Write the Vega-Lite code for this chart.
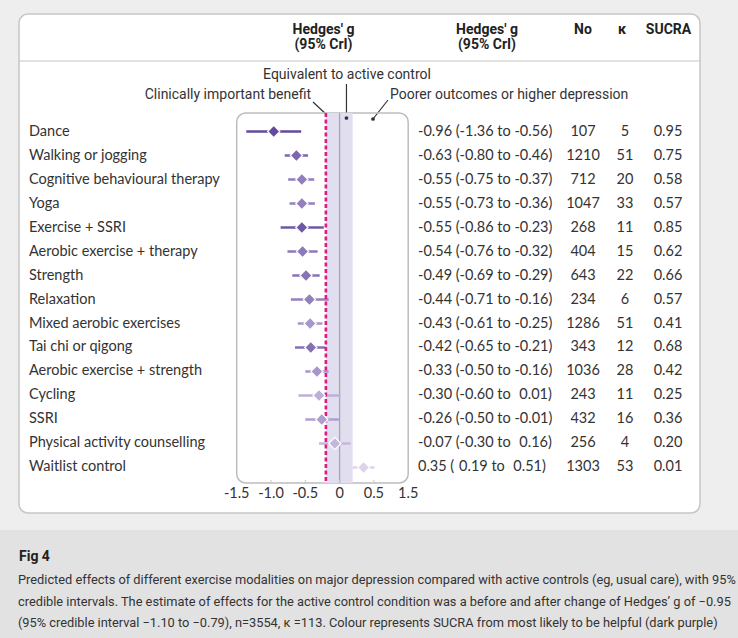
{
  "$schema": "https://vega.github.io/schema/vega-lite/v6.json",
  "width": 738,
  "height": 638,
  "autosize": "none",
  "padding": 0,
  "background": "#eeeeee",
  "config": {"view": {"stroke": null}, "axis": {"grid": false}},
  "datasets": {
    "ticks": [
      {"tick": -1.5, "label": "-1.5"},
      {"tick": -1.0, "label": "-1.0"},
      {"tick": -0.5, "label": "-0.5"},
      {"tick": 0, "label": "0"},
      {"tick": 0.5, "label": "0.5"},
      {"tick": 1.0, "label": "1.5"}
    ]
  },
  "data": {
    "values": [
      {"order": 1, "label": "Dance", "g": -0.96, "lo": -1.36, "hi": -0.56, "est": "-0.96 (-1.36 to -0.56)", "n": 107, "k": 5, "sucra": 0.95},
      {"order": 2, "label": "Walking or jogging", "g": -0.63, "lo": -0.80, "hi": -0.46, "est": "-0.63 (-0.80 to -0.46)", "n": 1210, "k": 51, "sucra": 0.75},
      {"order": 3, "label": "Cognitive behavioural therapy", "g": -0.55, "lo": -0.75, "hi": -0.37, "est": "-0.55 (-0.75 to -0.37)", "n": 712, "k": 20, "sucra": 0.58},
      {"order": 4, "label": "Yoga", "g": -0.55, "lo": -0.73, "hi": -0.36, "est": "-0.55 (-0.73 to -0.36)", "n": 1047, "k": 33, "sucra": 0.57},
      {"order": 5, "label": "Exercise + SSRI", "g": -0.55, "lo": -0.86, "hi": -0.23, "est": "-0.55 (-0.86 to -0.23)", "n": 268, "k": 11, "sucra": 0.85},
      {"order": 6, "label": "Aerobic exercise + therapy", "g": -0.54, "lo": -0.76, "hi": -0.32, "est": "-0.54 (-0.76 to -0.32)", "n": 404, "k": 15, "sucra": 0.62},
      {"order": 7, "label": "Strength", "g": -0.49, "lo": -0.69, "hi": -0.29, "est": "-0.49 (-0.69 to -0.29)", "n": 643, "k": 22, "sucra": 0.66},
      {"order": 8, "label": "Relaxation", "g": -0.44, "lo": -0.71, "hi": -0.16, "est": "-0.44 (-0.71 to -0.16)", "n": 234, "k": 6, "sucra": 0.57},
      {"order": 9, "label": "Mixed aerobic exercises", "g": -0.43, "lo": -0.61, "hi": -0.25, "est": "-0.43 (-0.61 to -0.25)", "n": 1286, "k": 51, "sucra": 0.41},
      {"order": 10, "label": "Tai chi or qigong", "g": -0.42, "lo": -0.65, "hi": -0.21, "est": "-0.42 (-0.65 to -0.21)", "n": 343, "k": 12, "sucra": 0.68},
      {"order": 11, "label": "Aerobic exercise + strength", "g": -0.33, "lo": -0.50, "hi": -0.16, "est": "-0.33 (-0.50 to -0.16)", "n": 1036, "k": 28, "sucra": 0.42},
      {"order": 12, "label": "Cycling", "g": -0.30, "lo": -0.60, "hi": 0.01, "est": "-0.30 (-0.60 to \u20040.01)", "n": 243, "k": 11, "sucra": 0.25},
      {"order": 13, "label": "SSRI", "g": -0.26, "lo": -0.50, "hi": -0.01, "est": "-0.26 (-0.50 to -0.01)", "n": 432, "k": 16, "sucra": 0.36},
      {"order": 14, "label": "Physical activity counselling", "g": -0.07, "lo": -0.30, "hi": 0.16, "est": "-0.07 (-0.30 to \u20040.16)", "n": 256, "k": 4, "sucra": 0.20},
      {"order": 15, "label": "Waitlist control", "g": 0.35, "lo": 0.19, "hi": 0.51, "est": "\u20040.35 (\u20040.19 to \u20040.51)", "n": 1303, "k": 53, "sucra": 0.01}
    ]
  },
  "layer": [
    {
      "data": {"values": [{}]},
      "mark": {"type": "rect", "color": "#e2e2e2"},
      "encoding": {
        "x": {"datum": -4.9504, "type": "quantitative", "scale": {"domain": [-4.9504, 5.8076], "nice": false, "zero": false}, "axis": null},
        "x2": {"datum": 5.8076},
        "y": {"datum": 17.6042, "type": "quantitative", "scale": {"domain": [-4.4792, 22.1042], "reverse": true, "nice": false, "zero": false}, "axis": null},
        "y2": {"datum": 22.2}
      }
    },
    {
      "data": {"values": [{}]},
      "mark": {"type": "rect", "fill": "#ffffff", "stroke": "#c6c6c6", "strokeWidth": 1.5, "cornerRadius": 9},
      "encoding": {
        "x": {"datum": -4.6735, "type": "quantitative", "axis": null},
        "x2": {"datum": 5.2536},
        "y": {"datum": -3.8958, "type": "quantitative", "axis": null},
        "y2": {"datum": 16.8958}
      }
    },
    {
      "data": {"values": [{}]},
      "mark": {"type": "rule", "color": "#c6c6c6", "strokeWidth": 1.2},
      "encoding": {
        "x": {"datum": -4.6735, "type": "quantitative", "axis": null},
        "x2": {"datum": 5.2536},
        "y": {"datum": -1.9375, "type": "quantitative", "axis": null}
      }
    },
    {
      "data": {"values": [{}]},
      "mark": {"type": "text", "font": "Roboto", "fontWeight": "bold", "fontSize": 14, "color": "#222222", "align": "center", "baseline": "middle", "lineHeight": 15},
      "encoding": {
        "x": {"datum": -0.2347, "type": "quantitative", "axis": null},
        "y": {"datum": -3.2292, "type": "quantitative", "axis": null},
        "text": {"value": ["Hedges' g", "(95% CrI)"]}
      }
    },
    {
      "data": {"values": [{}]},
      "mark": {"type": "text", "font": "Roboto", "fontWeight": "bold", "fontSize": 14, "color": "#222222", "align": "center", "baseline": "middle", "lineHeight": 15},
      "encoding": {
        "x": {"datum": 2.1487, "type": "quantitative", "axis": null},
        "y": {"datum": -3.2292, "type": "quantitative", "axis": null},
        "text": {"value": ["Hedges' g", "(95% CrI)"]}
      }
    },
    {
      "data": {"values": [{}]},
      "mark": {"type": "text", "font": "Roboto", "fontWeight": "bold", "fontSize": 14, "color": "#222222", "align": "center", "baseline": "middle"},
      "encoding": {
        "x": {"datum": 3.5481, "type": "quantitative", "axis": null},
        "y": {"datum": -3.2292, "type": "quantitative", "axis": null},
        "text": {"value": "No"}
      }
    },
    {
      "data": {"values": [{}]},
      "mark": {"type": "text", "font": "Roboto", "fontWeight": "bold", "fontSize": 14, "color": "#222222", "align": "center", "baseline": "middle"},
      "encoding": {
        "x": {"datum": 4.117, "type": "quantitative", "axis": null},
        "y": {"datum": -3.2292, "type": "quantitative", "axis": null},
        "text": {"value": "κ"}
      }
    },
    {
      "data": {"values": [{}]},
      "mark": {"type": "text", "font": "Roboto", "fontWeight": "bold", "fontSize": 14, "color": "#222222", "align": "center", "baseline": "middle"},
      "encoding": {
        "x": {"datum": 4.7945, "type": "quantitative", "axis": null},
        "y": {"datum": -3.2292, "type": "quantitative", "axis": null},
        "text": {"value": "SUCRA"}
      }
    },
    {
      "data": {"values": [{}]},
      "mark": {"type": "text", "font": "Roboto", "fontSize": 14, "color": "#333333", "align": "center", "baseline": "middle"},
      "encoding": {
        "x": {"datum": 0.1079, "type": "quantitative", "axis": null},
        "y": {"datum": -1.3542, "type": "quantitative", "axis": null},
        "text": {"value": "Equivalent to active control"}
      }
    },
    {
      "data": {"values": [{}]},
      "mark": {"type": "text", "font": "Roboto", "fontSize": 14, "color": "#333333", "align": "right", "baseline": "middle"},
      "encoding": {
        "x": {"datum": -0.4169, "type": "quantitative", "axis": null},
        "y": {"datum": -0.5208, "type": "quantitative", "axis": null},
        "text": {"value": "Clinically important benefit"}
      }
    },
    {
      "data": {"values": [{}]},
      "mark": {"type": "text", "font": "Roboto", "fontSize": 14, "color": "#333333", "align": "left", "baseline": "middle"},
      "encoding": {
        "x": {"datum": 0.7347, "type": "quantitative", "axis": null},
        "y": {"datum": -0.5208, "type": "quantitative", "axis": null},
        "text": {"value": "Poorer outcomes or higher depression"}
      }
    },
    {
      "data": {"values": [{}]},
      "mark": {"type": "rule", "color": "#333333", "strokeWidth": 1.2},
      "encoding": {
        "x": {"datum": -0.3878, "type": "quantitative", "axis": null},
        "x2": {"datum": -0.2},
        "y": {"datum": -0.2292, "type": "quantitative", "axis": null},
        "y2": {"datum": 0.2708}
      }
    },
    {
      "data": {"values": [{}]},
      "mark": {"type": "rule", "color": "#333333", "strokeWidth": 1.2},
      "encoding": {
        "x": {"datum": 0.1, "type": "quantitative", "axis": null},
        "y": {"datum": -0.9792, "type": "quantitative", "axis": null},
        "y2": {"datum": 0.4375}
      }
    },
    {
      "data": {"values": [{}]},
      "mark": {"type": "rule", "color": "#333333", "strokeWidth": 1.2},
      "encoding": {
        "x": {"datum": 0.7055, "type": "quantitative", "axis": null},
        "x2": {"datum": 0.4869},
        "y": {"datum": -0.3125, "type": "quantitative", "axis": null},
        "y2": {"datum": 0.4792}
      }
    },
    {
      "data": {"values": [{}]},
      "mark": {"type": "rect", "fill": null, "filled": false, "stroke": "#bdbdbd", "strokeWidth": 1.5, "cornerRadius": 9},
      "encoding": {
        "x": {"datum": -1.5, "type": "quantitative", "axis": null},
        "x2": {"datum": 1.0},
        "y": {"datum": 0.2292, "type": "quantitative", "axis": null},
        "y2": {"datum": 15.6458}
      }
    },
    {
      "data": {"values": [{}]},
      "mark": {"type": "rect", "color": "#e1def0"},
      "encoding": {
        "x": {"datum": -0.2, "type": "quantitative", "axis": null},
        "x2": {"datum": 0.19},
        "y": {"datum": 0.2292, "type": "quantitative", "axis": null},
        "y2": {"datum": 15.6458}
      }
    },
    {
      "data": {"values": [{}]},
      "mark": {"type": "rule", "color": "#a8a8a8", "strokeWidth": 1.3},
      "encoding": {
        "x": {"datum": 0, "type": "quantitative", "axis": null},
        "y": {"datum": 0.2292, "type": "quantitative", "axis": null},
        "y2": {"datum": 15.6458}
      }
    },
    {
      "data": {"name": "ticks"},
      "transform": [{"filter": "datum.tick > -1.5 && datum.tick < 1"}],
      "mark": {"type": "rule", "color": "#c4c4c4", "strokeWidth": 1},
      "encoding": {
        "x": {"field": "tick", "type": "quantitative", "axis": null},
        "y": {"datum": 15.52, "type": "quantitative", "axis": null},
        "y2": {"datum": 15.646}
      }
    },
    {
      "data": {"name": "ticks"},
      "mark": {"type": "text", "font": "Lato", "fontSize": 14.5, "color": "#333333", "align": "center", "baseline": "middle"},
      "encoding": {
        "x": {"field": "tick", "type": "quantitative", "axis": null},
        "y": {"datum": 16.104, "type": "quantitative", "axis": null},
        "text": {"field": "label"}
      }
    },
    {
      "data": {"values": [{}]},
      "mark": {"type": "point", "shape": "circle", "filled": true, "size": 14, "color": "#333333", "opacity": 1},
      "encoding": {
        "x": {"datum": 0.1, "type": "quantitative", "axis": null},
        "y": {"datum": 0.4375, "type": "quantitative", "axis": null}
      }
    },
    {
      "data": {"values": [{}]},
      "mark": {"type": "point", "shape": "circle", "filled": true, "size": 14, "color": "#333333", "opacity": 1},
      "encoding": {
        "x": {"datum": 0.4869, "type": "quantitative", "axis": null},
        "y": {"datum": 0.4792, "type": "quantitative", "axis": null}
      }
    },
    {
      "mark": {"type": "rule", "strokeWidth": 2.5},
      "encoding": {
        "x": {"field": "lo", "type": "quantitative", "axis": null},
        "x2": {"field": "hi"},
        "y": {"field": "order", "type": "quantitative", "axis": null},
        "color": {"field": "sucra", "type": "quantitative", "scale": {"domain": [0, 1], "range": ["#ddd6ee", "#5e4398"]}, "legend": null}
      }
    },
    {
      "data": {"values": [{}]},
      "mark": {"type": "rule", "color": "#e3197f", "strokeWidth": 2.6, "strokeDash": [4, 2.5]},
      "encoding": {
        "x": {"datum": -0.2, "type": "quantitative", "axis": null},
        "y": {"datum": 0.2292, "type": "quantitative", "axis": null},
        "y2": {"datum": 15.6458}
      }
    },
    {
      "mark": {"type": "point", "shape": "diamond", "filled": true, "size": 150, "opacity": 1, "stroke": "#ffffff", "strokeWidth": 1.2},
      "encoding": {
        "x": {"field": "g", "type": "quantitative", "axis": null},
        "y": {"field": "order", "type": "quantitative", "axis": null},
        "fill": {"field": "sucra", "type": "quantitative", "scale": {"domain": [0, 1], "range": ["#ddd6ee", "#5e4398"]}, "legend": null}
      }
    },
    {
      "mark": {"type": "text", "font": "Lato", "fontSize": 14.5, "color": "#333333", "align": "left", "baseline": "middle"},
      "encoding": {
        "x": {"datum": -4.5277, "type": "quantitative", "axis": null},
        "y": {"field": "order", "type": "quantitative", "axis": null},
        "text": {"field": "label"}
      }
    },
    {
      "mark": {"type": "text", "font": "Lato", "fontSize": 14.5, "color": "#333333", "align": "left", "baseline": "middle"},
      "encoding": {
        "x": {"datum": 1.1429, "type": "quantitative", "axis": null},
        "y": {"field": "order", "type": "quantitative", "axis": null},
        "text": {"field": "est"}
      }
    },
    {
      "mark": {"type": "text", "font": "Lato", "fontSize": 14.5, "color": "#333333", "align": "center", "baseline": "middle"},
      "encoding": {
        "x": {"datum": 3.5481, "type": "quantitative", "axis": null},
        "y": {"field": "order", "type": "quantitative", "axis": null},
        "text": {"field": "n", "type": "quantitative", "format": "d"}
      }
    },
    {
      "mark": {"type": "text", "font": "Lato", "fontSize": 14.5, "color": "#333333", "align": "center", "baseline": "middle"},
      "encoding": {
        "x": {"datum": 4.1603, "type": "quantitative", "axis": null},
        "y": {"field": "order", "type": "quantitative", "axis": null},
        "text": {"field": "k", "type": "quantitative", "format": "d"}
      }
    },
    {
      "mark": {"type": "text", "font": "Lato", "fontSize": 14.5, "color": "#333333", "align": "center", "baseline": "middle"},
      "encoding": {
        "x": {"datum": 4.7872, "type": "quantitative", "axis": null},
        "y": {"field": "order", "type": "quantitative", "axis": null},
        "text": {"field": "sucra", "type": "quantitative", "format": ".2f"}
      }
    },
    {
      "data": {"values": [{}]},
      "mark": {"type": "text", "font": "Roboto", "fontWeight": "bold", "fontSize": 14, "color": "#222222", "align": "left", "baseline": "alphabetic"},
      "encoding": {
        "x": {"datum": -4.6735, "type": "quantitative", "axis": null},
        "y": {"datum": 18.8958, "type": "quantitative", "axis": null},
        "text": {"value": "Fig 4"}
      }
    },
    {
      "data": {"values": [{}]},
      "mark": {"type": "text", "font": "Roboto", "fontSize": 12.8, "color": "#333333", "align": "left", "baseline": "alphabetic", "lineHeight": 21.7},
      "encoding": {
        "x": {"datum": -4.6881, "type": "quantitative", "axis": null},
        "y": {"datum": 19.8542, "type": "quantitative", "axis": null},
        "text": {"value": [
          "Predicted effects of different exercise modalities on major depression compared with active controls (eg, usual care), with 95%",
          "credible intervals. The estimate of effects for the active control condition was a before and after change of Hedges’ g of \u22120.95",
          "(95% credible interval \u22121.10 to \u22120.79), n=3554, κ =113. Colour represents SUCRA from most likely to be helpful (dark purple)",
          "to least likely to be helpful (light purple). SSRI=selective serotonin reuptake inhibitor; SUCRA=surface under the cumulative"
        ]}
      }
    }
  ]
}
